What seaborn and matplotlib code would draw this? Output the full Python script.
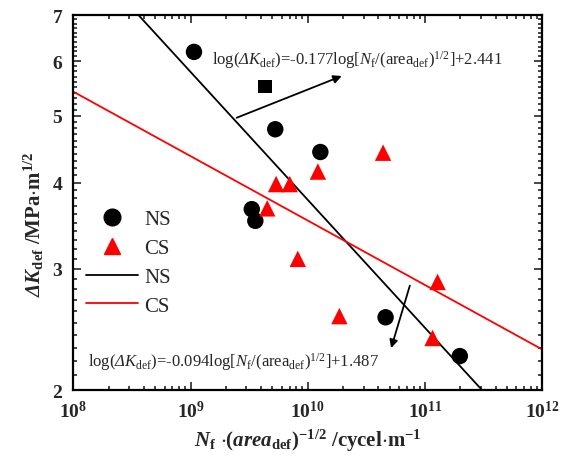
import numpy as np
import pandas as pd
import matplotlib
matplotlib.use("Agg")
import matplotlib.pyplot as plt
import matplotlib.ticker as mticker
from matplotlib.lines import Line2D
import seaborn as sns

sns.set_style("ticks")
plt.rcParams["font.family"] = ["Liberation Serif", "DejaVu Serif"]
plt.rcParams["mathtext.fontset"] = "custom"
plt.rcParams["mathtext.rm"] = "Liberation Serif"
plt.rcParams["mathtext.it"] = "Liberation Serif:italic"
plt.rcParams["mathtext.bf"] = "Liberation Serif:bold"
plt.rcParams["mathtext.bfit"] = "Liberation Serif:italic:bold"
plt.rcParams["mathtext.sf"] = "Liberation Serif:italic"
plt.rcParams["mathtext.default"] = "regular"

# NS specimens (circles)
ns_x = [1.07e9, 5.28e9, 1.28e10, 3.33e9, 3.57e9, 4.61e10, 1.98e11]
ns_y = [6.19, 4.78, 4.43, 3.66, 3.52, 2.55, 2.24]

# CS specimens (triangles)
cs_x = [5.37e9, 7.02e9, 1.22e10, 4.39e10, 4.51e9, 8.22e9, 1.28e11, 1.86e10, 1.16e11]
cs_y = [3.98, 3.98, 4.15, 4.42, 3.67, 3.10, 2.87, 2.56, 2.38]

# the single square point
sq_x = [4.31e9]
sq_y = [5.51]

# fitted lines (end points)
ns_fit_x = [3.6e8, 3.06e11]
ns_fit_y = [7.0, 2.0]
cs_fit_x = [1e8, 1e12]
cs_fit_y = [5.42, 2.29]

ns_df = pd.DataFrame({"x": ns_x, "y": ns_y})
cs_df = pd.DataFrame({"x": cs_x, "y": cs_y})

fig = plt.figure(figsize=(5.77, 4.6), dpi=100)
ax = fig.add_axes([0.127, 0.150, 0.8128, 0.815])

sns.lineplot(x=ns_fit_x, y=ns_fit_y, color="black", lw=1.3, ax=ax)
sns.lineplot(x=cs_fit_x, y=cs_fit_y, color="red", lw=1.3, ax=ax)
sns.scatterplot(data=ns_df, x="x", y="y", marker="o", color="black", s=140,
                edgecolor="none", ax=ax, zorder=3)
sns.scatterplot(data=cs_df, x="x", y="y", marker="^", color="red", s=140,
                edgecolor="none", ax=ax, zorder=3)
sns.scatterplot(x=sq_x, y=sq_y, marker="s", color="black", s=95,
                edgecolor="none", ax=ax, zorder=3)

ax.set_xscale("log")
ax.set_yscale("log")
ax.set_xlim(1e8, 1e12)
ax.set_ylim(2, 7)

ax.yaxis.set_major_locator(mticker.FixedLocator([2, 3, 4, 5, 6, 7]))
ax.yaxis.set_major_formatter(mticker.FormatStrFormatter("%d"))
ax.yaxis.set_minor_locator(mticker.MultipleLocator(0.1))
ax.yaxis.set_minor_formatter(mticker.NullFormatter())
ax.xaxis.set_major_locator(mticker.LogLocator(base=10, numticks=10))
ax.xaxis.set_minor_locator(mticker.LogLocator(base=10, subs=np.arange(2, 10), numticks=20))

ax.tick_params(which="both", direction="in", top=True, right=True, width=1.2)
ax.tick_params(which="major", length=6, labelsize=14)
ax.tick_params(which="minor", length=3)
ax.tick_params(axis="x", which="major", pad=7)
ax.tick_params(axis="y", which="major", pad=8)
for lab in ax.get_xticklabels() + ax.get_yticklabels():
    lab.set_fontweight("bold")
for sp in ax.spines.values():
    sp.set_linewidth(1.6)
    sp.set_color("black")

ax.set_xlabel(r"$\mathbfit{N}_{f}$ $\cdot$($\mathbfit{area}_{def}$)$^{-1/2}$ /cycel$\cdot$m$^{-1}$",
              fontsize=15, fontweight="bold")
ax.set_ylabel(r"$\mathbfit{\Delta K}_{def}$ /MPa$\cdot$m$^{1/2}$",
              fontsize=15, fontweight="bold")
ax.xaxis.set_label_coords(0.5, -0.097)
ax.yaxis.set_label_coords(-0.058, 0.445)

ax.text(1.51e9, 6.05,
        r"log($\mathsf{\Delta}\mathit{K}_{def}$)=-0.177log[$\mathit{N}_{f}$/(area$_{def}$)$^{1/2}$]+2.441",
        fontsize=12, va="center", ha="left")
ax.text(1.34e8, 2.20,
        r"log($\mathsf{\Delta}\mathit{K}_{def}$)=-0.094log[$\mathit{N}_{f}$/(area$_{def}$)$^{1/2}$]+1.487",
        fontsize=12, va="center", ha="left")

ax.annotate("", xy=(2.05e10, 5.73), xytext=(2.35e9, 4.95),
            arrowprops=dict(arrowstyle="-|>", color="black", lw=1.3, mutation_scale=12))
ax.annotate("", xy=(5.06e10, 2.28), xytext=(7.54e10, 2.86),
            arrowprops=dict(arrowstyle="-|>", color="black", lw=1.3, mutation_scale=12))

handles = [
    Line2D([], [], marker="o", color="black", ls="none", markersize=12),
    Line2D([], [], marker="^", color="red", ls="none", markersize=12),
    Line2D([], [], color="black", lw=1.3),
    Line2D([], [], color="red", lw=1.3),
]
ax.legend(handles, ["NS", "CS", "NS", "CS"], loc="center left",
          bbox_to_anchor=(0.0, 0.34), frameon=False, fontsize=15,
          handlelength=2.5, labelspacing=0.45, handletextpad=0.3,
          borderaxespad=0.2)

fig.savefig("out.png", dpi=100)
